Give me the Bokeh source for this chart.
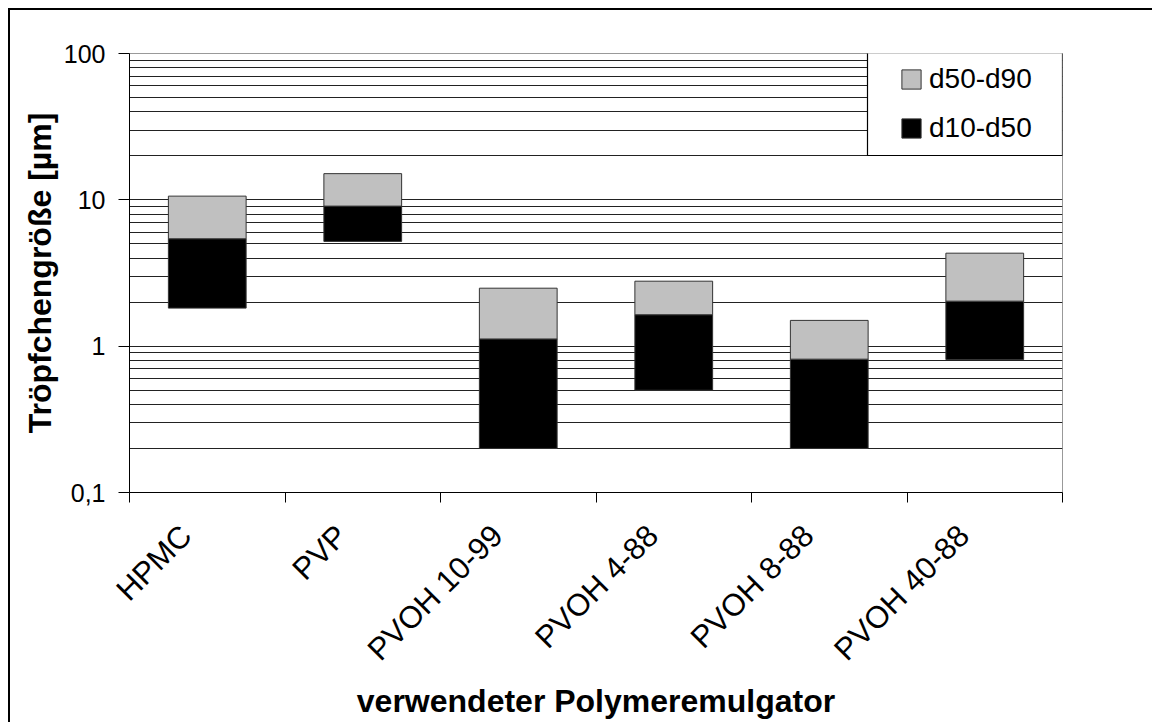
import math
from bokeh.plotting import figure
from bokeh.models import (Range1d, FixedTicker, Legend, LegendItem, BoxAnnotation,
                          ColumnDataSource, LinearAxis)
from bokeh.embed import file_html
from bokeh.resources import INLINE

# ---- data ----
categories = ["HPMC", "PVP", "PVOH 10-99", "PVOH 4-88", "PVOH 8-88", "PVOH 40-88"]
d10 = [1.82, 5.2, 0.2, 0.5, 0.2, 0.81]
d50 = [5.42, 9.06, 1.12, 1.64, 0.815, 2.03]
d90 = [10.6, 15.1, 2.49, 2.78, 1.50, 4.32]
series_labels = ["d50-d90", "d10-d50"]
y_major = [0.1, 1, 10, 100]
y_major_labels = ["0,1", "1", "10", "100"]
y_minor = [m * 10 ** e for e in (-1, 0, 1) for m in range(2, 10)]

FONT = "Liberation Sans"
GRAY = "#c0c0c0"
EDGE = "#333333"
GRID = "#222222"

n = len(categories)
xc = [i + 0.5 for i in range(n)]
src = ColumnDataSource(dict(x=xc, cat=categories, d10=d10, d50=d50, d90=d90))

p = figure(width=1152, height=722, output_backend="svg", toolbar_location=None,
           y_axis_type="log", x_range=Range1d(0, n), y_range=Range1d(0.1, 100),
           min_border_left=129, min_border_right=90, min_border_top=53,
           min_border_bottom=230)
p.background_fill_color = "white"
p.border_fill_alpha = 0
p.outline_line_color = "#999999"
p.outline_line_width = 1
# outer frame of the chart (top and left edges visible in the window)
p.styles = {
    "background-color": "white",
    "background-image": "linear-gradient(black, black), linear-gradient(black, black)",
    "background-size": "100% 2px, 2px 100%",
    "background-position": "8px 8px, 8px 8px",
    "background-repeat": "no-repeat",
}

# label axis uses a slightly shifted range so that rotated labels sit like the original
p.extra_x_ranges = {"labels": Range1d(0.135, n + 0.135)}

# grid
p.xgrid.visible = False
p.ygrid.ticker = FixedTicker(ticks=[0.1, 1, 10], minor_ticks=y_minor)
p.ygrid.grid_line_color = GRID
p.ygrid.grid_line_width = 1.2
p.ygrid.minor_grid_line_color = GRID
p.ygrid.minor_grid_line_width = 1.2

# bars
rb = p.vbar(x="x", width=0.5, bottom="d10", top="d50", source=src,
            fill_color="black", line_color=EDGE, line_width=1)
rg = p.vbar(x="x", width=0.5, bottom="d50", top="d90", source=src,
            fill_color=GRAY, line_color=EDGE, line_width=1)

# legend box + legend
box = BoxAnnotation(left=867, right=1062, top=52, bottom=155,
                    left_units="canvas", right_units="canvas",
                    top_units="canvas", bottom_units="canvas",
                    fill_color="white", fill_alpha=1,
                    line_color="black", line_alpha=1, line_width=1.2)
p.add_layout(box)
legend = Legend(items=[LegendItem(label=series_labels[0], renderers=[rg]),
                       LegendItem(label=series_labels[1], renderers=[rb])],
                location="top_right", margin=0, padding=10, spacing=17,
                glyph_width=24, glyph_height=24, label_standoff=6, label_width=123,
                label_text_font=FONT, label_text_font_size="28px",
                label_text_color="black",
                border_line_alpha=0, background_fill_alpha=0)
p.add_layout(legend)

# x axis: tick marks at category boundaries
xa = p.below[0]
xa.ticker = FixedTicker(ticks=[], minor_ticks=list(range(n + 1)))
xa.major_tick_in = 0
xa.major_tick_out = 0
xa.minor_tick_in = 0
xa.minor_tick_out = 10
xa.minor_tick_line_color = "black"
xa.axis_line_color = "black"

# x axis: category labels
la = LinearAxis(x_range_name="labels",
                ticker=FixedTicker(ticks=xc, minor_ticks=[]),
                major_label_overrides={x: c for x, c in zip(xc, categories)},
                major_label_orientation=math.pi / 4,
                axis_line_color=None, major_tick_line_color=None,
                minor_tick_line_color=None, major_tick_in=0, major_tick_out=0,
                minor_tick_in=0, minor_tick_out=0,
                major_label_text_font=FONT, major_label_text_font_size="31px",
                major_label_text_color="black", major_label_standoff=28,
                axis_label="verwendeter Polymeremulgator",
                axis_label_text_font=FONT, axis_label_text_font_size="32px",
                axis_label_text_font_style="bold", axis_label_text_color="black",
                axis_label_standoff=0)
p.add_layout(la, "below")

# y axis
ya = p.yaxis[0]
ya.ticker = FixedTicker(ticks=y_major, minor_ticks=[])
ya.major_label_overrides = {v: t for v, t in zip(y_major, y_major_labels)}
ya.major_tick_in = 0
ya.major_tick_out = 11
ya.major_tick_line_color = "black"
ya.minor_tick_in = 0
ya.minor_tick_out = 0
ya.axis_line_color = "black"
ya.major_label_text_font = FONT
ya.major_label_text_font_size = "25px"
ya.major_label_text_color = "black"
ya.major_label_standoff = 13
ya.axis_label = "Tröpfchengröße [µm]"
ya.axis_label_text_font = FONT
ya.axis_label_text_font_size = "32px"
ya.axis_label_text_font_style = "bold"
ya.axis_label_text_color = "black"
ya.axis_label_standoff = 3

open("out.html", "w").write(file_html(p, INLINE))
